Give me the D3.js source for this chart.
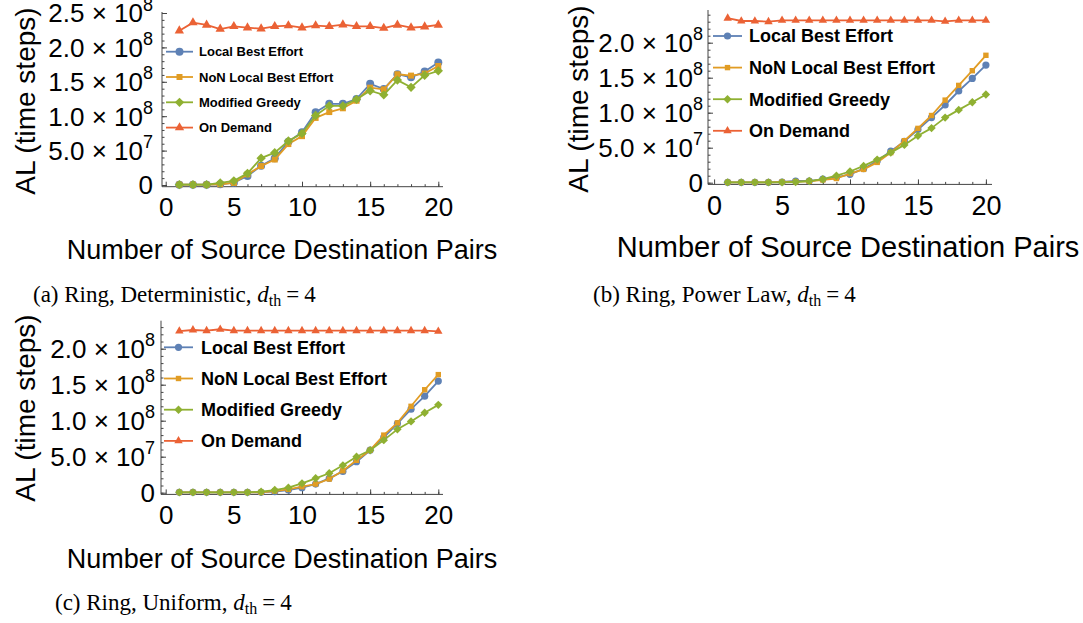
<!DOCTYPE html>
<html>
<head>
<meta charset="utf-8">
<script src="https://cdn.jsdelivr.net/npm/d3@7"></script>
<style>
  body { margin: 0; background: #fff; }
  svg { display: block; }
</style>
</head>
<body>
<svg id="fig" width="1083" height="623"></svg>
<script>
// x values: number of source destination pairs
var pairs = [1, 2, 3, 4, 5, 6, 7, 8, 9, 10, 11, 12, 13, 14, 15, 16, 17, 18, 19, 20]

// values in units of 10^7 time steps
// (a) Ring, Deterministic
var ringDetLocal  = [0.05, 0.05, 0.05, 0.1, 0.34, 1.3, 2.8, 3.9, 6.3, 7.65, 10.56, 11.8, 11.8, 12.5, 14.7, 13.95, 16.1, 15.65, 16.5, 17.8]
var ringDetNon    = [0.05, 0.05, 0.05, 0.1, 0.3, 1.55, 2.75, 3.7, 5.95, 7.1, 9.75, 10.6, 11.15, 12.25, 14.15, 13.9, 16.1, 15.9, 16.2, 17.3]
var ringDetGreedy = [0.05, 0.05, 0.05, 0.3, 0.6, 1.7, 3.9, 4.7, 6.4, 7.5, 10.1, 11.5, 11.5, 12.45, 13.7, 13.1, 15.25, 14.2, 15.95, 16.6]
var ringDetDemand = [22.43, 23.6, 23.26, 22.67, 23.06, 22.86, 22.72, 23.06, 23.16, 22.86, 23.16, 23.06, 23.3, 23.06, 23.06, 22.8, 23.26, 22.86, 23.0, 23.26]

// (b) Ring, Power Law
var ringPowLocal  = [0.05, 0.05, 0.05, 0.05, 0.1, 0.24, 0.24, 0.5, 0.76, 1.2, 2.0, 3.1, 4.5, 5.9, 7.6, 9.3, 11.1, 13.1, 14.9, 16.8]
var ringPowNon    = [0.05, 0.05, 0.05, 0.05, 0.1, 0.15, 0.2, 0.4, 0.6, 1.3, 1.9, 2.9, 4.3, 6.0, 7.76, 9.6, 11.8, 13.9, 16.0, 18.2]
var ringPowGreedy = [0.05, 0.05, 0.05, 0.05, 0.05, 0.1, 0.24, 0.5, 1.0, 1.6, 2.4, 3.3, 4.3, 5.4, 6.7, 7.8, 9.3, 10.4, 11.5, 12.6]
var ringPowDemand = [23.5, 23.1, 23.1, 23.0, 23.2, 23.2, 23.2, 23.2, 23.2, 23.2, 23.2, 23.2, 23.2, 23.2, 23.2, 23.2, 23.05, 23.2, 23.2, 23.2]

// (c) Ring, Uniform
var ringUniLocal  = [0.05, 0.05, 0.05, 0.05, 0.05, 0.05, 0.05, 0.14, 0.37, 0.7, 1.2, 2.0, 2.96, 4.3, 5.9, 7.7, 9.6, 11.6, 13.4, 15.5]
var ringUniNon    = [0.05, 0.05, 0.05, 0.05, 0.05, 0.05, 0.05, 0.23, 0.46, 0.83, 1.2, 1.9, 3.05, 4.5, 5.9, 8.0, 9.7, 12.0, 14.3, 16.4]
var ringUniGreedy = [0.05, 0.05, 0.05, 0.05, 0.05, 0.05, 0.14, 0.37, 0.7, 1.3, 2.0, 2.7, 3.8, 5.0, 5.9, 7.3, 8.8, 9.9, 11.1, 12.2]
var ringUniDemand = [22.45, 22.6, 22.5, 22.7, 22.5, 22.5, 22.5, 22.5, 22.5, 22.5, 22.5, 22.5, 22.5, 22.5, 22.5, 22.5, 22.5, 22.5, 22.5, 22.4]

var seriesNames = ["Local Best Effort", "NoN Local Best Effort", "Modified Greedy", "On Demand"]
var seriesColors = ["#5E81B5", "#E19C24", "#8FB032", "#EB6235"]
var seriesShapes = ["circle", "square", "diamond", "triangle"]

var xMajorTicks = [0, 5, 10, 15, 20]
var xTitle = "Number of Source Destination Pairs"
var yTitle = "AL (time steps)"

var svg = d3.select("#fig")
var sans = "'Liberation Sans', Arial, sans-serif"
var serif = "'Liberation Serif', 'Times New Roman', serif"

function markerPath(shape, s) {
  if (shape == "circle") return d3.symbol(d3.symbolCircle, Math.PI * (4 * s) * (4 * s))()
  if (shape == "square") return d3.symbol(d3.symbolSquare, (6 * s) * (6 * s))()
  if (shape == "diamond") return d3.symbol(d3.symbolSquare, (6.6 * s) * (6.6 * s))()
  return d3.symbol(d3.symbolTriangle, 38 * s * s)()
}

function drawMarker(g, shape, color, px, py, s) {
  var rot = shape == "diamond" ? " rotate(45)" : ""
  g.append("path")
    .attr("d", markerPath(shape, s))
    .attr("transform", "translate(" + px + "," + py + ")" + rot)
    .attr("fill", color)
}

function yLabel(v) {
  if (v == 0) return ["0", ""]
  var raw = v * 1e7
  var e = Math.floor(Math.log10(raw))
  return [(raw / Math.pow(10, e)).toFixed(1) + " \u00d7 10", String(e)]
}

function drawPanel(p) {
  var g = svg.append("g")
  var x = d3.scaleLinear().domain([0, 20]).range([p.x0, p.x0 + 20 * p.xUnit])
  var y = d3.scaleLinear().domain([0, 25]).range([p.zeroY, p.zeroY - 25 * p.yUnit])

  // axes lines
  g.append("line")
    .attr("x1", p.axisX).attr("x2", p.axisRight)
    .attr("y1", p.axisLineY).attr("y2", p.axisLineY)
    .attr("stroke", "#444").attr("stroke-width", 1)
  g.append("line")
    .attr("x1", p.axisX).attr("x2", p.axisX)
    .attr("y1", p.axisTop).attr("y2", p.axisLineY)
    .attr("stroke", "#444").attr("stroke-width", 1)

  // x ticks (inward)
  var xAx = g.append("g").attr("transform", "translate(0," + p.axisLineY + ")")
  xAx.append("g").call(d3.axisBottom(x).tickValues(pairs).tickSize(-2.5).tickFormat(""))
  xAx.append("g").call(d3.axisBottom(x).tickValues(xMajorTicks).tickSize(-5).tickPadding(11))
  xAx.selectAll(".domain").remove()
  xAx.selectAll(".tick line").attr("stroke", "#444")
  xAx.selectAll(".tick text")
    .attr("font-family", sans).attr("font-size", p.tickFont + "px").attr("fill", "#000")

  // y ticks (inward)
  var yMinor = d3.range(0, p.yMinorMax + 1)
  var yAx = g.append("g").attr("transform", "translate(" + p.axisX + ",0)")
  yAx.append("g").call(d3.axisLeft(y).tickValues(yMinor).tickSize(-2.5).tickFormat(""))
  yAx.append("g").call(d3.axisLeft(y).tickValues(p.yMajor).tickSize(-5).tickFormat(""))
  yAx.selectAll(".domain").remove()
  yAx.selectAll(".tick line").attr("stroke", "#444")

  p.yMajor.forEach(function(v) {
    var lab = yLabel(v)
    var t = g.append("text")
      .attr("x", p.axisX - p.labelGap).attr("y", y(v))
      .attr("dy", "0.36em")
      .attr("text-anchor", "end")
      .attr("font-family", sans).attr("font-size", "26px")
    t.append("tspan").text(lab[0])
    if (lab[1]) t.append("tspan").attr("font-size", "18px").attr("dy", "-0.65em").text(lab[1])
  })

  // series
  var sets = [p.local, p.non, p.greedy, p.demand]
  var line = d3.line().x(function(d, i) { return x(pairs[i]) }).y(function(d) { return y(d) })
  sets.forEach(function(vals, k) {
    g.append("path")
      .attr("d", line(vals))
      .attr("fill", "none")
      .attr("stroke", seriesColors[k])
      .attr("stroke-width", 1.8)
      .attr("stroke-linejoin", "round")
    vals.forEach(function(v, i) {
      drawMarker(g, seriesShapes[k], seriesColors[k], x(pairs[i]), y(v), p.markerScale)
    })
  })

  // legend
  seriesNames.forEach(function(name, k) {
    var ly = p.legY + k * p.legDy
    g.append("line")
      .attr("x1", p.legX1).attr("x2", p.legX2)
      .attr("y1", ly).attr("y2", ly)
      .attr("stroke", seriesColors[k]).attr("stroke-width", 1.8)
    drawMarker(g, seriesShapes[k], seriesColors[k], (p.legX1 + p.legX2) / 2, ly, p.markerScale)
    g.append("text")
      .attr("x", p.legTextX).attr("y", ly).attr("dy", "0.36em")
      .attr("font-family", sans).attr("font-weight", "bold")
      .attr("font-size", p.legFont + "px")
      .text(name)
  })

  // axis titles
  g.append("text")
    .attr("transform", "translate(" + p.yTitleX + "," + p.yTitleY + ") rotate(-90)")
    .attr("text-anchor", "middle")
    .attr("font-family", sans).attr("font-size", "28px")
    .text(yTitle)
  g.append("text")
    .attr("x", p.xTitleX).attr("y", p.xTitleY)
    .attr("text-anchor", "middle")
    .attr("font-family", sans).attr("font-size", p.xTitleFont + "px")
    .text(xTitle)

  // caption
  var c = g.append("text")
    .attr("x", p.capX).attr("y", p.capY)
    .attr("font-family", serif).attr("font-size", "23px")
  c.append("tspan").text(p.caption + " ")
  c.append("tspan").attr("font-style", "italic").text("d")
  c.append("tspan").attr("font-size", "16px").attr("dy", "4").text("th")
  c.append("tspan").attr("dy", "-4").attr("dx", "5").text("=")
  c.append("tspan").attr("dx", "5").text("4")
}

drawPanel({
  local: ringDetLocal, non: ringDetNon, greedy: ringDetGreedy, demand: ringDetDemand,
  x0: 165.7, xUnit: 13.63, axisX: 162, axisRight: 443, zeroY: 185, yUnit: 6.88,
  axisTop: 12, axisLineY: 186.7, yMajor: [0, 5, 10, 15, 20, 25], yMinorMax: 25, labelGap: 9,
  legY: 51.7, legDy: 25.3, legX1: 166, legX2: 193, legTextX: 199, legFont: 13, markerScale: 1,
  tickFont: 26, xTitleFont: 27,
  yTitleX: 35, yTitleY: 101, xTitleX: 282, xTitleY: 259,
  caption: "(a) Ring, Deterministic,", capX: 33, capY: 301.7
})

drawPanel({
  local: ringPowLocal, non: ringPowNon, greedy: ringPowGreedy, demand: ringPowDemand,
  x0: 714.1, xUnit: 13.59, axisX: 708, axisRight: 992, zeroY: 182.7, yUnit: 7.0,
  axisTop: 10, axisLineY: 184.4, yMajor: [0, 5, 10, 15, 20], yMinorMax: 24, labelGap: 5,
  legY: 36, legDy: 31.6, legX1: 713, legX2: 742, legTextX: 749, legFont: 18, markerScale: 0.9,
  tickFont: 27, xTitleFont: 29,
  yTitleX: 588, yTitleY: 99, xTitleX: 848, xTitleY: 257,
  caption: "(b) Ring, Power Law,", capX: 593, capY: 301.7
})

drawPanel({
  local: ringUniLocal, non: ringUniNon, greedy: ringUniGreedy, demand: ringUniDemand,
  x0: 165.7, xUnit: 13.63, axisX: 161, axisRight: 443, zeroY: 492.7, yUnit: 7.2,
  axisTop: 320.7, axisLineY: 494.4, yMajor: [0, 5, 10, 15, 20], yMinorMax: 23, labelGap: 6,
  legY: 347.3, legDy: 31.2, legX1: 164, legX2: 193, legTextX: 201, legFont: 18, markerScale: 0.9,
  tickFont: 26, xTitleFont: 27,
  yTitleX: 35, yTitleY: 408, xTitleX: 282, xTitleY: 568,
  caption: "(c) Ring, Uniform,", capX: 55, capY: 610
})
</script>
</body>
</html>
